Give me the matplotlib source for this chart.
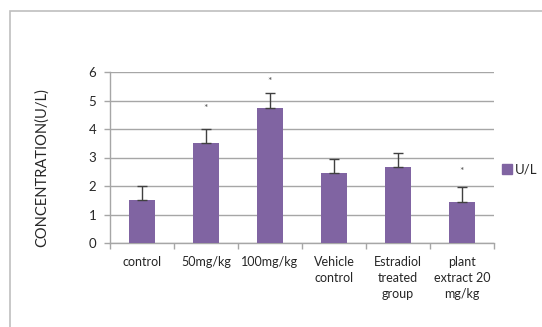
import matplotlib
matplotlib.use("Agg")
import matplotlib.pyplot as plt
from matplotlib.patches import Rectangle
from matplotlib.lines import Line2D
import numpy as np

plt.rcParams['font.family'] = ['Lato', 'DejaVu Sans']

categories = ["control", "50mg/kg", "100mg/kg", "Vehicle\ncontrol",
              "Estradiol\ntreated\ngroup", "plant\nextract 20\nmg/kg"]
values = [1.5, 3.5, 4.75, 2.45, 2.65, 1.45]
errors = [0.5, 0.5, 0.5, 0.5, 0.5, 0.5]
star_levels = [None, 4.72, 5.68, None, None, 2.52]
series_name = "U/L"

bar_color = "#8064A2"
grid_color = "#a6a6a6"
text_color = "#262626"

W, H = 542, 327
fig = plt.figure(figsize=(W / 100, H / 100), dpi=100)
ax = fig.add_axes([110 / W, 1 - 243 / H, 384 / W, 171 / H])

x = np.arange(len(categories))
ax.bar(x, values, width=0.4, color=bar_color, zorder=3)
ax.errorbar(x, values, yerr=[np.zeros(len(errors)), errors], fmt="none",
            ecolor="#404040", elinewidth=1.0, capsize=3.5, capthick=1.0, zorder=4)

for xi, s in zip(x, star_levels):
    if s is not None:
        ax.text(xi, s, "*", ha="center", va="center", fontsize=7.5,
                color="#555555", zorder=5)

ax.set_xlim(-0.5, len(categories) - 0.5)
ax.set_ylim(0, 6)
ax.set_yticks(range(0, 7))
ax.yaxis.grid(True, color=grid_color, linewidth=1.0, zorder=0)
ax.set_axisbelow(True)

ax.set_xticks(x)
ax.set_xticklabels(categories, fontsize=9, color=text_color, linespacing=1.45)
ax.set_xticks(np.arange(-0.5, len(categories)), minor=True)
ax.tick_params(axis="x", which="major", length=0, pad=9)
ax.tick_params(axis="x", which="minor", length=4, color=grid_color, width=1)
ax.tick_params(axis="y", length=4, color=grid_color, width=1,
               labelsize=9.5, labelcolor=text_color, pad=6)

for side in ("top", "right"):
    ax.spines[side].set_visible(False)
for side in ("left", "bottom"):
    ax.spines[side].set_color(grid_color)
    ax.spines[side].set_linewidth(1.0)

fig.text(42 / W, 1 - 168 / H, "CONCENTRATION(U/L)", rotation=90,
         ha="center", va="center", fontsize=10.5, color=text_color)

handle = Line2D([], [], marker="s", linestyle="none", markersize=6.5,
                markerfacecolor=bar_color, markeredgecolor=bar_color)
fig.legend([handle], [series_name], loc="center left",
           bbox_to_anchor=(502 / W, 1 - 170 / H), frameon=False,
           borderpad=0, borderaxespad=0,
           fontsize=9.5, handletextpad=0.2, handlelength=0.8,
           labelcolor=text_color)

# chart frame
fig.add_artist(Rectangle((10 / W, -0.01), 1.0, 1 - 11 / H + 0.01,
                         transform=fig.transFigure, fill=False,
                         edgecolor="#bfbfbf", linewidth=1.2))

fig.savefig("out.png", dpi=100, facecolor="white")
